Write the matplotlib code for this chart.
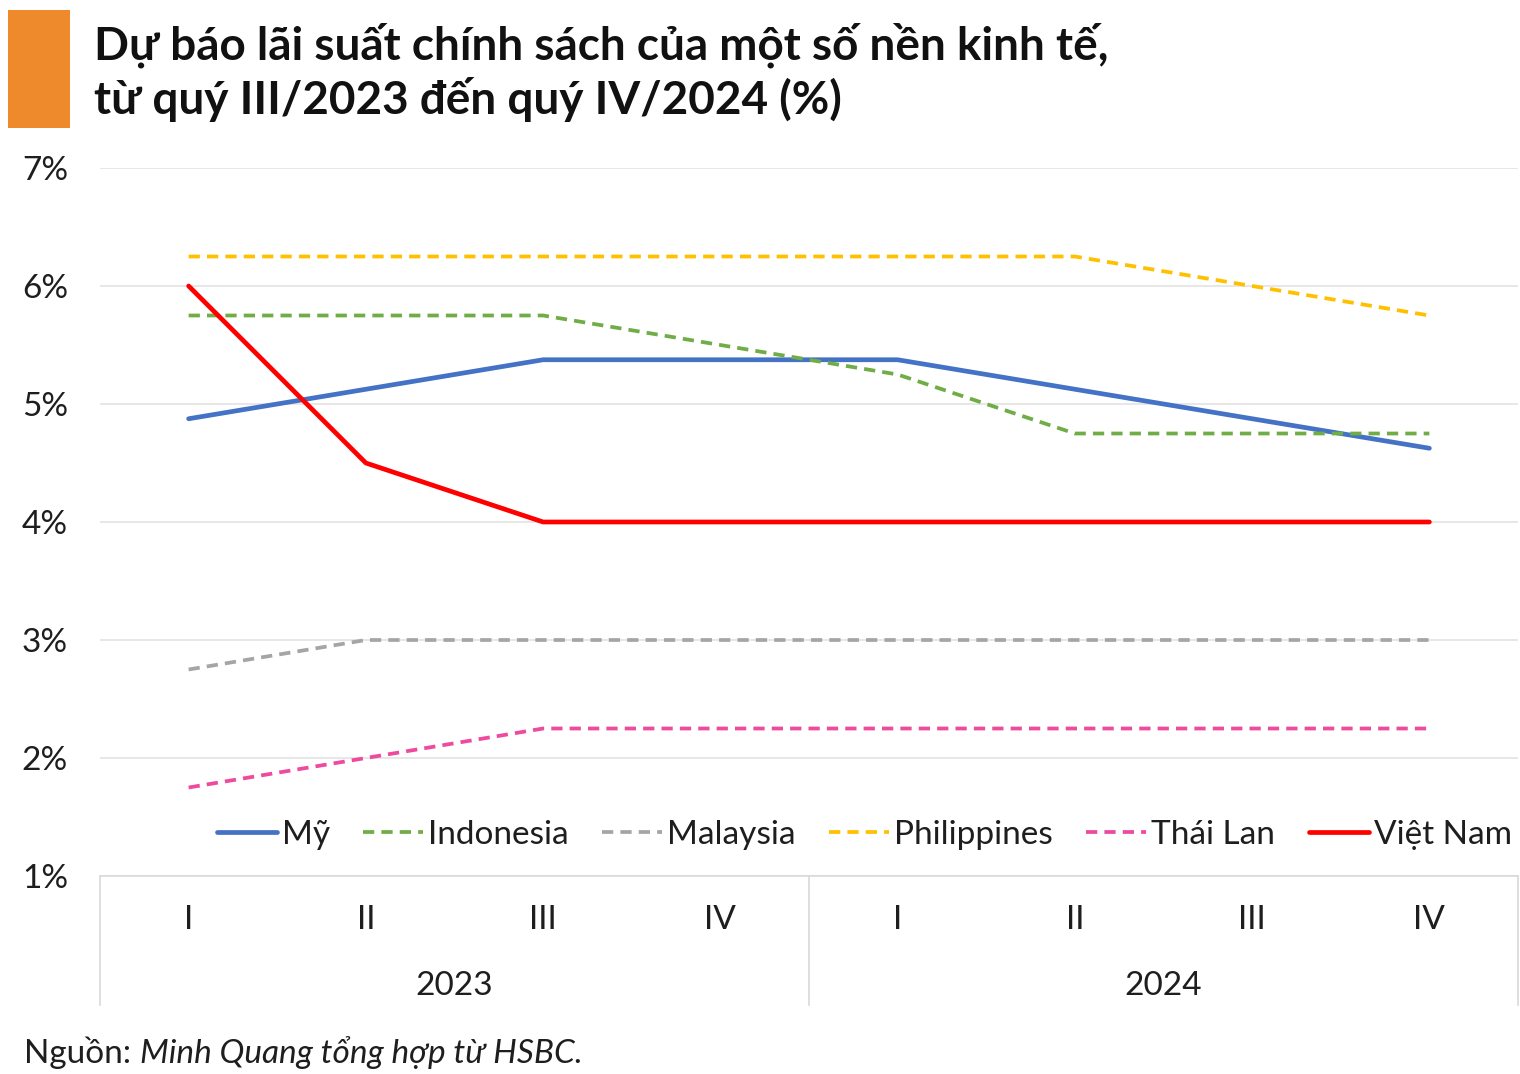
import matplotlib
matplotlib.use("Agg")
import matplotlib.pyplot as plt
from matplotlib.lines import Line2D
from matplotlib.patches import Rectangle

plt.rcParams['font.family'] = ['Lato', 'Open Sans', 'DejaVu Sans']

quarters = ["I", "II", "III", "IV", "I", "II", "III", "IV"]
years = ["2023", "2024"]
series_names = ["Mỹ", "Indonesia", "Malaysia", "Philippines", "Thái Lan", "Việt Nam"]
my = [4.875, 5.125, 5.375, 5.375, 5.375, 5.125, 4.875, 4.625]
indonesia = [5.75, 5.75, 5.75, 5.5, 5.25, 4.75, 4.75, 4.75]
malaysia = [2.75, 3.0, 3.0, 3.0, 3.0, 3.0, 3.0, 3.0]
philippines = [6.25, 6.25, 6.25, 6.25, 6.25, 6.25, 6.0, 5.75]
thai_lan = [1.75, 2.0, 2.25, 2.25, 2.25, 2.25, 2.25, 2.25]
viet_nam = [6.0, 4.5, 4.0, 4.0, 4.0, 4.0, 4.0, 4.0]
y_ticks = [1, 2, 3, 4, 5, 6, 7]

values = [my, indonesia, malaysia, philippines, thai_lan, viet_nam]
colors = ["#4472C4", "#70AD47", "#A5A5A5", "#FFC000", "#EE4A9E", "#FF0000"]
styles = ["-", "--", "--", "--", "--", "-"]
widths = [3.4, 2.7, 2.7, 2.7, 2.7, 3.4]

TXT = "#1E1E1E"
FS = 24
W, H = 1520, 1074
fig = plt.figure(figsize=(W / 100, H / 100), dpi=100)
ax = fig.add_axes([100 / W, (H - 876) / H, (1518 - 100) / W, (876 - 168) / H])

x = list(range(len(quarters)))
for name, vals, c, ls, lw in zip(series_names, values, colors, styles, widths):
    if ls == "--":
        ax.plot(x, vals, color=c, linestyle=(0, (3.0, 1.9)), linewidth=lw, label=name,
                dash_capstyle='butt')
    else:
        ax.plot(x, vals, color=c, linestyle=ls, linewidth=lw, label=name, solid_capstyle='round')

ax.set_xlim(-0.5, len(quarters) - 0.5)
ax.set_ylim(1, 7)
ax.set_yticks(y_ticks)
ax.set_yticklabels([f"{v}%" for v in y_ticks], fontsize=FS, color=TXT)
ax.tick_params(axis='y', length=0, pad=23)
ax.set_xticks([])
for s in ["top", "right", "left"]:
    ax.spines[s].set_visible(False)
ax.spines["bottom"].set_color("#D9D9D9")
ax.spines["bottom"].set_linewidth(1.2)
ax.grid(axis='y', color="#E3E3E3", linewidth=1.2)
ax.set_axisbelow(True)

# multi-level category axis
trans = ax.get_xaxis_transform()
box_depth = -(1005 - 876) / (876 - 168)
for xb in [-0.5, 3.5, 7.5]:
    ax.add_line(Line2D([xb, xb], [0, box_depth], transform=trans, color="#D9D9D9",
                       linewidth=1.2, clip_on=False))
for xi, q in zip(x, quarters):
    ax.text(xi, -(920 - 876) / 708, q, transform=trans, ha='center', va='center',
            fontsize=FS, color=TXT)
for i, yr in enumerate(years):
    ax.text(1.5 + 4 * i, -(986 - 876) / 708, yr, transform=trans, ha='center', va='center',
            fontsize=FS, color=TXT)

# legend
ax.legend(loc='center', bbox_to_anchor=(0.5 + 0.039, (876 - 835) / 708), ncol=6, frameon=False,
          fontsize=FS, handlelength=1.8, handletextpad=0.15, columnspacing=1.0, labelcolor=TXT)

# title block
fig.patches.append(Rectangle((8 / W, (H - 128) / H), 62 / W, 118 / H, transform=fig.transFigure,
                             facecolor="#EE8A2B", edgecolor='none'))
fig.text(94 / W, (H - 45) / H, "Dự báo lãi suất chính sách của một số nền kinh tế,",
         fontsize=33, fontweight='bold', color="#111111", va='center', ha='left')
fig.text(94 / W, (H - 100) / H, "từ quý III/2023 đến quý IV/2024 (%)",
         fontsize=33, fontweight='bold', color="#111111", va='center', ha='left')

# source
t1 = fig.text(24 / W, (H - 1053) / H, "Nguồn: ", fontsize=FS, color=TXT, va='center', ha='left')
ax.annotate("Minh Quang tổng hợp từ HSBC.", xy=(1, 0.5), xycoords=t1, va='center', ha='left',
            fontsize=FS, style='italic', color=TXT, annotation_clip=False)

fig.savefig("out.png", dpi=100, facecolor='white')
